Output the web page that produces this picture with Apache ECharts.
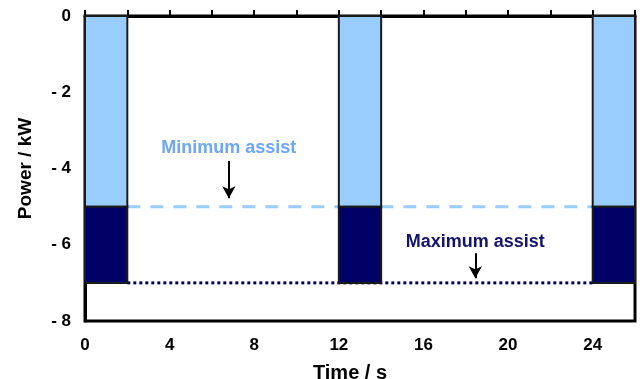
<!DOCTYPE html>
<html>
<head>
<meta charset="utf-8">
<script src="https://cdn.jsdelivr.net/npm/echarts@6/dist/echarts.min.js"></script>
<style>
  html, body { margin: 0; padding: 0; background: #fff; }
  #main { width: 644px; height: 379px; }
</style>
</head>
<body>
<div id="main"></div>
<script>
// pulses (s) and the two power levels (kW)
var pulseStart = [0, 12, 24];
var pulseEnd = [2, 14, 26];
var minAssist = -5;
var maxAssist = -7;
var levelLine = [2, 24];

// annotations
var noteText = ['Minimum assist', 'Maximum assist'];
var noteColor = ['#6ea6f8', '#14146e'];
var noteX = [6.8, 18.45];
var noteY = [-3.45, -5.92];
var arrowTop = [-3.8, -6.22];
var arrowTip = [-4.78, -6.88];

var myChart = echarts.init(document.getElementById('main'));

function rectItem(params, api) {
    var p0 = api.coord([api.value(0), api.value(2)]);
    var p1 = api.coord([api.value(1), api.value(3)]);
    return {
        type: 'rect',
        shape: { x: p0[0], y: p0[1], width: p1[0] - p0[0], height: p1[1] - p0[1] },
        style: { fill: api.visual('color'), stroke: '#1a1a1a', lineWidth: 2 }
    };
}

var upper = [], lower = [];
pulseStart.forEach(function (s, i) {
    upper.push([s, pulseEnd[i], 0, minAssist]);
    lower.push([s, pulseEnd[i], minAssist, maxAssist]);
});

var notes = noteText.map(function (t, i) {
    return {
        value: [noteX[i], noteY[i]],
        label: { formatter: t, color: noteColor[i] }
    };
});
var arrows = noteX.map(function (x, i) {
    return [{ coord: [x, arrowTop[i]] }, { coord: [x, arrowTip[i]] }];
});

var option = {
    animation: false,
    grid: {
        left: 85, right: 9, top: 16, bottom: 58,
        outerBoundsMode: 'none', containLabel: false,
        show: true, borderColor: '#000', borderWidth: 3
    },
    xAxis: {
        type: 'value', min: 0, max: 26, interval: 2,
        name: 'Time / s', nameLocation: 'middle', nameGap: 42,
        nameTextStyle: { fontFamily: 'Liberation Sans', fontWeight: 'bold', fontSize: 20, color: '#000', padding: [0, 20, 0, 0] },
        axisLine: { lineStyle: { color: '#000', width: 3 } },
        axisTick: { inside: true, length: 6, lineStyle: { color: '#000', width: 2 } },
        splitLine: { show: false },
        axisLabel: {
            margin: 16,
            fontFamily: 'Liberation Sans', fontWeight: 'bold', fontSize: 17, color: '#000',
            formatter: function (v) { return v % 4 === 0 && v < 26 ? String(v) : ''; }
        }
    },
    yAxis: {
        type: 'value', min: -8, max: 0, interval: 2,
        name: 'Power / kW', nameLocation: 'middle', nameGap: 50, nameRotate: 90,
        nameTextStyle: { fontFamily: 'Liberation Sans', fontWeight: 'bold', fontSize: 19, color: '#000' },
        axisLine: { show: true, lineStyle: { color: '#000', width: 3 } },
        axisTick: { show: true, inside: true, length: 6, lineStyle: { color: '#000', width: 2 } },
        splitLine: { show: false },
        axisLabel: {
            margin: 14,
            fontFamily: 'Liberation Sans', fontWeight: 'bold', fontSize: 17, color: '#000',
            formatter: function (v) { return v === 0 ? '0' : '- ' + Math.abs(v); }
        }
    },
    series: [
        {
            type: 'line', z: 1, symbol: 'none',
            data: [[levelLine[0], minAssist], [levelLine[1], minAssist]],
            lineStyle: { color: '#99ccff', width: 3, type: [13, 10] }
        },
        {
            type: 'line', z: 1, symbol: 'none',
            data: [[levelLine[0], maxAssist], [levelLine[1], maxAssist]],
            lineStyle: { color: '#000066', width: 3, type: [3, 3] }
        },
        {
            type: 'custom', z: 3, renderItem: rectItem,
            itemStyle: { color: '#99ccff' },
            encode: { x: [0, 1], y: [2, 3] },
            data: upper
        },
        {
            type: 'custom', z: 3, renderItem: rectItem,
            itemStyle: { color: '#000066' },
            encode: { x: [0, 1], y: [2, 3] },
            data: lower
        },
        {
            type: 'scatter', z: 4, symbolSize: 0,
            itemStyle: { opacity: 1 },
            label: {
                show: true, position: 'inside',
                fontFamily: 'Liberation Sans', fontWeight: 'bold', fontSize: 18
            },
            data: notes,
            markLine: {
                silent: true,
                symbol: ['none', 'arrow'], symbolSize: [10, 12],
                label: { show: false },
                lineStyle: { color: '#000', width: 2, type: 'solid', opacity: 1 },
                data: arrows
            }
        }
    ]
};

myChart.setOption(option);
</script>
</body>
</html>
